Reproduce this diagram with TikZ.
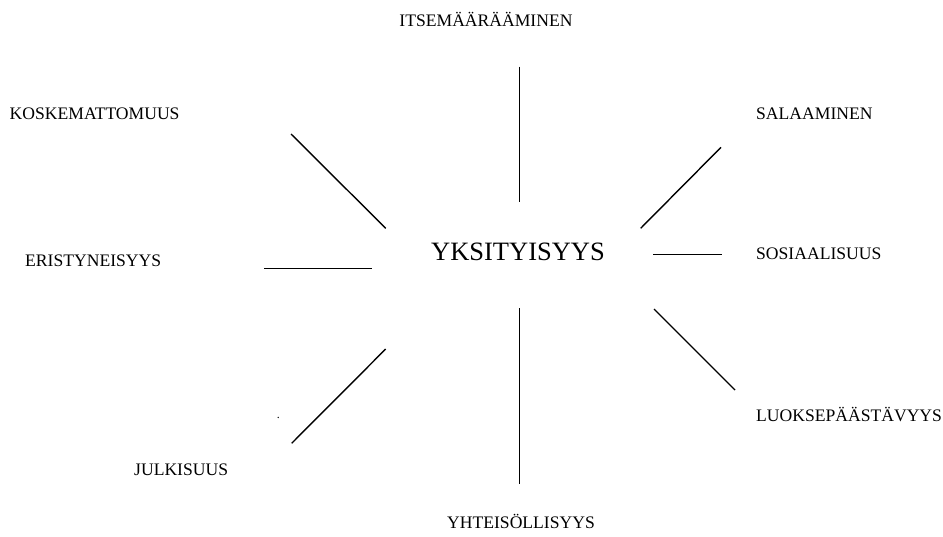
\documentclass[tikz,border=0pt]{standalone}
\usepackage{fontspec}
\setmainfont{Liberation Serif}
\begin{document}
\begin{tikzpicture}[x=1pt,y=-1pt,
  lbl/.style={inner sep=0pt,anchor=base west,font=\fontsize{17.6}{20}\selectfont},
  lblc/.style={inner sep=0pt,anchor=base,font=\fontsize{17.6}{20}\selectfont},
  ray/.style={line width=1.4pt,black}]
\useasboundingbox (0,0) rectangle (943,537);
% texts
\node[lblc] (itse) at (486,27) {ITSEMÄÄRÄÄMINEN};
\node[lbl] (kosk) at (9.5,119.5) {KOSKEMATTOMUUS};
\node[lbl] (sala) at (756,119.5) {SALAAMINEN};
\node[lbl] (eris) at (25,266.5) {ERISTYNEISYYS};
\node[inner sep=0pt,anchor=base,font=\fontsize{26.5}{30}\selectfont] (yks) at (518,261) {YKSITYISYYS};
\node[lbl] (sos) at (756,259.5) {SOSIAALISUUS};
\node[lbl] (luok) at (756,421.5) {LUOKSEPÄÄSTÄVYYS};
\node[lbl] (julk) at (134,475.5) {JULKISUUS};
\node[lblc] (yht) at (521,528.5) {YHTEISÖLLISYYS};
\node[inner sep=0pt,anchor=base,font=\fontsize{12}{14}\selectfont] (dot) at (278.3,418.5) {.};
% ray ends
\coordinate (t1) at (519.7,66.7);  \coordinate (t2) at (519.7,201.7);
\coordinate (k1) at (291,134);     \coordinate (k2) at (385.7,228.3);
\coordinate (s1) at (721,147.3);   \coordinate (s2) at (640.7,228.3);
\coordinate (e1) at (264,268.7);   \coordinate (e2) at (372.3,268.7);
\coordinate (o1) at (653.3,254.7); \coordinate (o2) at (721.7,254.7);
\coordinate (j1) at (385.7,349);   \coordinate (j2) at (291.7,443.3);
\coordinate (l1) at (654,309);     \coordinate (l2) at (735,390);
\coordinate (b1) at (519.7,308.3); \coordinate (b2) at (519.7,484);
\draw[ray] (t1) -- (t2);
\draw[ray] (k1) -- (k2);
\draw[ray] (s1) -- (s2);
\draw[ray] (e1) -- (e2);
\draw[ray] (o1) -- (o2);
\draw[ray] (j1) -- (j2);
\draw[ray] (l1) -- (l2);
\draw[ray] (b1) -- (b2);
\end{tikzpicture}
\end{document}
